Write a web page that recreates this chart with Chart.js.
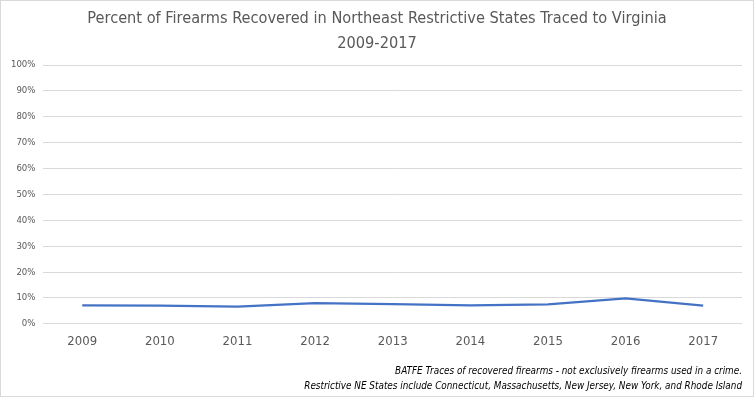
<!DOCTYPE html>
<html>
<head>
<meta charset="utf-8">
<script src="https://cdn.jsdelivr.net/npm/chart.js@4.4.0/dist/chart.umd.min.js"></script>
<style>
  html, body { margin: 0; padding: 0; background: #fff; }
  #wrap { position: relative; width: 752px; height: 395px; border: 1px solid #d9d9d9; }
</style>
</head>
<body>
<div id="wrap"><canvas id="grafico"></canvas></div>
<script>
// anos e percentuais
const anos = ['2009', '2010', '2011', '2012', '2013', '2014', '2015', '2016', '2017'];
const percentVirginia = [7.1, 7.0, 6.7, 8.0, 7.6, 7.1, 7.5, 9.8, 7.0];
const tituloLinhas = ['Percent of Firearms Recovered in Northeast Restrictive States Traced to Virginia', '2009-2017'];
const notaLinhas = [
    'BATFE Traces of recovered firearms - not exclusively firearms used in a crime.',
    'Restrictive NE States include Connecticut, Massachusetts, New Jersey, New York, and Rhode Island'
];

const fonte = "'Liberation Sans Narrow', 'DejaVu Sans Condensed', sans-serif";
const cinza = '#595959';

// título centrado na largura toda do gráfico (como no Excel)
const tituloPlugin = {
    id: 'tituloCentro',
    afterDraw(chart) {
        const c = chart.ctx;
        c.save();
        c.fillStyle = cinza;
        c.font = `16.2px ${fonte}`;
        c.textAlign = 'center';
        c.textBaseline = 'middle';
        tituloLinhas.forEach((linha, i) => {
            c.fillText(linha, chart.width / 2, 18 + i * 25);
        });
        c.restore();
    }
};

const ctx = document.getElementById('grafico').getContext('2d');
new Chart(ctx, {
    type: 'line',
    data: {
        labels: anos,
        datasets: [{
            label: 'Virginia',
            data: percentVirginia,
            borderColor: '#4472c4',
            borderWidth: 2.25,
            pointRadius: 0,
            tension: 0,
            fill: false
        }]
    },
    options: {
        responsive: true,
        maintainAspectRatio: false,
        animation: false,
        layout: { padding: { left: 2, right: 11, top: 64, bottom: 2 } },
        scales: {
            x: {
                offset: true,
                grid: { display: false, drawTicks: false },
                border: { display: false },
                ticks: { color: cinza, font: { family: fonte, size: 13 }, padding: 10 }
            },
            y: {
                min: 0,
                max: 100,
                grid: { color: '#d9d9d9', drawTicks: false },
                border: { display: false },
                ticks: {
                    stepSize: 10,
                    color: cinza,
                    padding: 8,
                    font: { family: fonte, size: 9.5 },
                    callback: v => v + '%'
                }
            }
        },
        plugins: {
            legend: { display: false },
            tooltip: { enabled: false },
            title: { display: false },
            subtitle: {
                display: true,
                position: 'bottom',
                align: 'end',
                text: notaLinhas,
                color: '#000',
                font: { family: fonte, size: 9.85, style: 'italic', lineHeight: 1.55 },
                padding: { top: 4, bottom: 0 }
            }
        }
    },
    plugins: [tituloPlugin]
});
</script>
</body>
</html>
